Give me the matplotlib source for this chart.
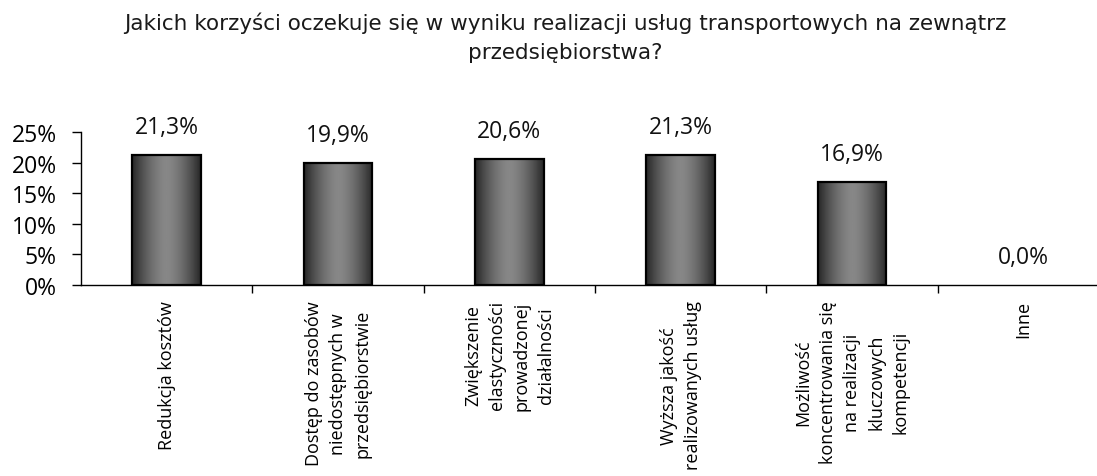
import numpy as np
import matplotlib
matplotlib.use("Agg")
import matplotlib.pyplot as plt
from matplotlib import font_manager as fm

title = "Jakich korzyści oczekuje się w wyniku realizacji usług transportowych na zewnątrz\nprzedsiębiorstwa?"
categories = [
    "Redukcja kosztów",
    "Dostęp do zasobów\nniedostępnych w\nprzedsiębiorstwie",
    "Zwiększenie\nelastyczności\nprowadzonej\ndziałalności",
    "Wyższa jakość\nrealizowanych usług",
    "Możliwość\nkoncentrowania się\nna realizacji\nkluczowych\nkompetencji",
    "Inne",
]
values = [21.3, 19.9, 20.6, 21.3, 16.9, 0.0]
yticks = [0, 5, 10, 15, 20, 25]

names = {f.name for f in fm.fontManager.ttflist}
if "Liberation Sans Narrow" in names:
    title_font, title_size = "Liberation Sans Narrow", 17.5
else:
    title_font, title_size = "DejaVu Sans", 15.5
plt.rcParams['font.family'] = ['Open Sans', 'DejaVu Sans']

fig = plt.figure(figsize=(10.97, 4.77), dpi=100)
ax = fig.add_axes([81/1097, (477-286)/477, (1109-81)/1097, 153/477])

x = np.arange(len(categories))
width = 0.4
bars = ax.bar(x, values, width=width, facecolor='none', edgecolor='black', linewidth=1.6, zorder=3)

# horizontal gradient fill
grad = np.abs(np.linspace(-1, 1, 256))
grad = 0.53 - 0.38 * grad**1.6
img = np.tile(grad, (2, 1))
for b in bars:
    if b.get_height() <= 0:
        b.set_visible(False)
        continue
    x0, y0 = b.get_x(), b.get_y()
    w, h = b.get_width(), b.get_height()
    im = ax.imshow(img, cmap='gray', vmin=0, vmax=1, aspect='auto',
                   extent=[x0, x0 + w, y0, y0 + h], zorder=2, interpolation='bilinear')
    im.set_clip_path(b)

for xi, v in zip(x, values):
    ax.text(xi, v + 2.6, f"{v:.1f}%".replace('.', ','), ha='center', va='bottom', fontsize=16.5, color='#111111')

ax.set_xlim(-0.5, len(categories) - 0.5)
ax.set_ylim(0, 25)
ax.set_yticks(yticks)
ax.set_yticklabels([f"{t}%" for t in yticks], fontsize=16.5)
ax.set_xticks(x)
ax.set_xticklabels(categories, rotation=90, fontsize=13, ha='center', va='top',
                   multialignment='center', linespacing=1.45)
ax.set_xticks(np.arange(0.5, len(categories) - 0.5, 1), minor=True)
ax.tick_params(axis='x', which='major', length=0, pad=11)
ax.tick_params(axis='x', which='minor', length=6, direction='out', width=1)
ax.tick_params(axis='y', length=6.5, direction='out', width=1, pad=11)
for s in ['top', 'right']:
    ax.spines[s].set_visible(False)
for s in ['left', 'bottom']:
    ax.spines[s].set_linewidth(1.0)

fig.text(565/1097, 1 - 12/477, title, ha='center', va='top', fontsize=title_size,
         family=[title_font, 'DejaVu Sans'], linespacing=1.6, color='#1a1a1a')

fig.savefig("out.png", dpi=100)
